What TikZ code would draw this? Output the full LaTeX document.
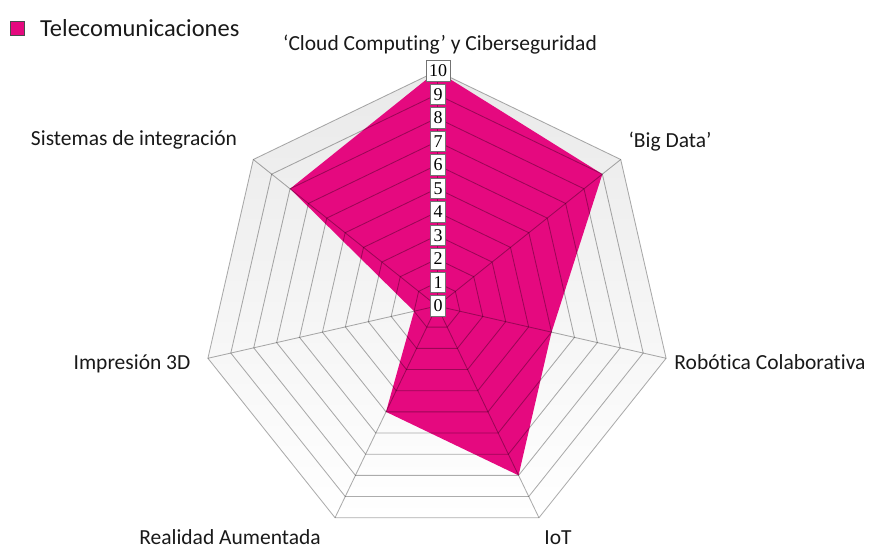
\documentclass[tikz,border=0pt]{standalone}
\usepackage{fontspec}
\setmainfont{Carlito}[Ligatures=NoCommon]
\newfontfamily\numfont{Liberation Serif}
\definecolor{tpink}{RGB}{229,9,127}
\begin{document}
\begin{tikzpicture}[x=1pt,y=-1pt,
  gridline/.style={draw=black,draw opacity=0.32,line width=0.85pt},
  numbox/.style={draw=black!55,fill=white,line width=0.6pt,inner xsep=3pt,inner ysep=0pt,minimum height=20.5pt,font=\numfont\fontsize{18}{18}\selectfont},
  axlabel/.style={anchor=base,font=\fontsize{21.5}{21.5}\selectfont,text=black!90}]
\useasboundingbox (0,0) rectangle (870,548);
\begin{scope}[shift={(437,306)}]
  \shade[top color=gray!17,middle color=gray!5,bottom color=white] (-90:235) \foreach \k in {1,...,6}{ -- (-90+\k*360/7:235)} -- cycle;
  \fill[tpink] (-90:235) -- (-90+360/7:211.5) -- (-90+2*360/7:117.5) -- (-90+3*360/7:188)
     -- (-90+4*360/7:117.5) -- (-90+5*360/7:23.5) -- (-90+6*360/7:188) -- cycle;
  \foreach \i in {1,...,10}
    \draw[gridline] (-90:\i*23.5) \foreach \k in {1,...,6}{ -- (-90+\k*360/7:\i*23.5)} -- cycle;
  \foreach \k in {0,...,6}
    \draw[gridline] (0,0) -- (-90+\k*360/7:235);
  \foreach \i in {0,...,10}
    \node[numbox] (n\i) at (1,-\i*23.5) {\i};
\end{scope}
\node[axlabel] (l0) at (440,51) {‘Cloud Computing’ y Ciberseguridad};
\node[axlabel] (l1) at (670,148) {‘Big Data’};
\node[axlabel] (l2) at (770,369) {Robótica Colaborativa};
\node[axlabel] (l3) at (558,544) {IoT};
\node[axlabel] (l4) at (230,544) {Realidad Aumentada};
\node[axlabel] (l5) at (132,369) {Impresión 3D};
\node[axlabel] (l6) at (134,146) {Sistemas de integración};
\node[draw=black!70,fill=tpink,minimum size=14pt,inner sep=0pt,line width=0.6pt] (lg) at (17,28) {};
\node[anchor=base west,font=\fontsize{24.5}{24.5}\selectfont,text=black!90,inner sep=0pt] (lgt) at (40,37) {Telecomunicaciones};
\end{tikzpicture}
\end{document}
